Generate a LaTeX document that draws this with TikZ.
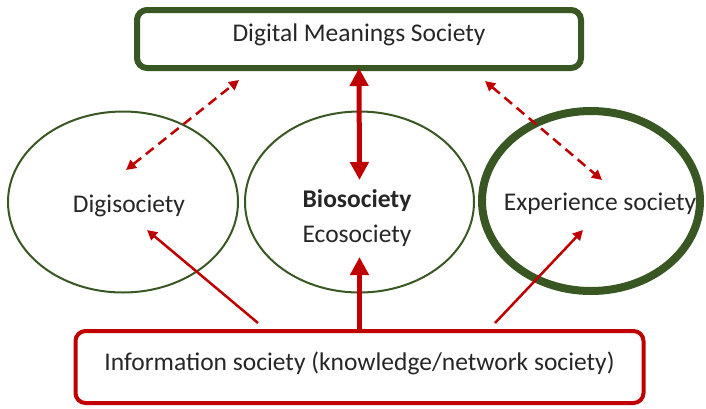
\documentclass[tikz,border=0pt]{standalone}
\usepackage{fontspec}
\setmainfont{Carlito}
\usetikzlibrary{arrows.meta, shapes.geometric}

\definecolor{socgreen}{RGB}{56,87,35}
\definecolor{socred}{RGB}{192,0,0}

\begin{document}
\begin{tikzpicture}[x=1pt, y=-1pt]
    \tikzset{
        society font/.style={
                font=\fontsize{25.5}{30}\selectfont, text=black!85
            },
        society box/.style={
                rectangle, rounded corners=10pt, outer sep=0pt,
                society font
            },
        society oval/.style={
                ellipse, draw=socgreen, line width=2pt, outer sep=0pt, inner sep=0pt
            },
        society label/.style={
                society font, anchor=base
            },
        main link/.style={
                draw=socred, line width=5pt, -{Triangle[length=18pt, width=18pt]}
            },
        side link/.style={
                draw=socred, line width=2.5pt, -{Triangle[length=10pt, width=10pt]}
            },
        dashed link/.style={
                side link, dash pattern=on 10pt off 6pt,
                {Triangle[length=10pt, width=10pt]}-{Triangle[length=10pt, width=10pt]}
            }
    }
    \useasboundingbox (0,0) rectangle (706,408);

    % --- top and bottom boxes ---
    \node[society box, draw=socgreen, line width=6pt, minimum width=444pt, minimum height=58pt,
          text height=0.75em, text depth=0.28em]
        (dms) at (359,39) {Digital Meanings Society};
    \node[society box, draw=socred, line width=4pt, minimum width=568pt, minimum height=72pt,
          text height=1.0em, text depth=0.22em]
        (info) at (359.5,367) {Information society (knowledge/network society)};

    % --- the three societies ---
    \node[society oval, minimum width=230pt, minimum height=181pt] (digi) at (123,202) {};
    \node[society oval, minimum width=229pt, minimum height=181pt] (bio) at (359.5,202) {};
    \node[society oval, line width=8pt, minimum width=218pt, minimum height=180pt] (exp) at (591,201) {};

    \node[society label] (digiText) at (129,212) {Digisociety};
    \node[society label] (bioText) at (357,207) {\bfseries Biosociety};
    \node[society label] (ecoText) at (357,242) {Ecosociety};
    \node[society label] (expText) at (600,210) {Experience society};

    % --- free arrow ends ---
    \coordinate (bioUp) at (359.5,180);
    \coordinate (bioDown) at (359.5,257);
    \coordinate (infoL) at (258,323);
    \coordinate (infoR) at (495,323);
    \coordinate (digiIn) at (147,230);
    \coordinate (expIn) at (583,230);
    \coordinate (digiTop) at (126,170);
    \coordinate (dmsL) at (239,80);
    \coordinate (dmsR) at (485,81);
    \coordinate (expTop) at (602,180);

    % --- connectors ---
    \draw[main link, {Triangle[length=18pt, width=18pt]}-{Triangle[length=18pt, width=18pt]}] (dms.south) -- (bioUp);
    \draw[main link] (info.north) -- (bioDown);
    \draw[side link] (infoL) -- (digiIn);
    \draw[side link] (infoR) -- (expIn);
    \draw[dashed link] (digiTop) -- (dmsL);
    \draw[dashed link] (dmsR) -- (expTop);
\end{tikzpicture}
\end{document}
